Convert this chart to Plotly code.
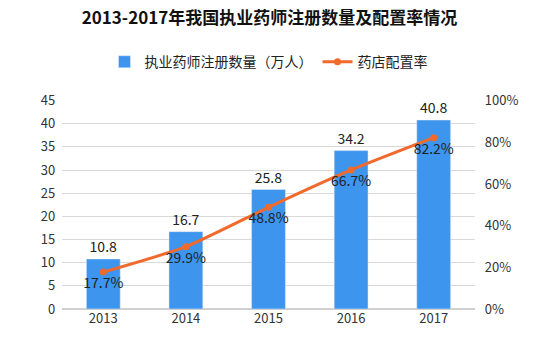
import plotly.graph_objects as go

years = ["2013", "2014", "2015", "2016", "2017"]
pharmacists = [10.8, 16.7, 25.8, 34.2, 40.8]
ratio = [0.177, 0.299, 0.488, 0.667, 0.822]
bar_name = "执业药师注册数量（万人）"
line_name = "药店配置率"
title = "2013-2017年我国执业药师注册数量及配置率情况"

font_fam = "Noto Sans CJK SC, Noto Sans, sans-serif"

fig = go.Figure()
fig.add_trace(go.Bar(
    x=years, y=pharmacists, name=bar_name,
    marker_color="#3d95ee",
    text=[f"{v:.1f}" for v in pharmacists], textposition="outside",
    textfont=dict(size=14, color="#222222", family=font_fam),
    cliponaxis=False,
))
fig.add_trace(go.Scatter(
    x=years, y=ratio, name=line_name, yaxis="y2",
    mode="lines+markers+text",
    line=dict(color="#f2692c", width=3, shape="spline", smoothing=0.6),
    marker=dict(color="#f2692c", size=7),
    text=[f"{v*100:.1f}%" for v in ratio], textposition="bottom center",
    textfont=dict(size=14, color="#222222", family=font_fam),
))

fig.update_layout(
    width=539, height=355,
    margin=dict(l=62, r=64, t=75, b=46),
    paper_bgcolor="white", plot_bgcolor="white",
    font=dict(family=font_fam, size=13, color="#333333"),
    title=dict(text="<b>" + title + "</b>", x=0.5, xanchor="center",
               yref="container", y=0.95, yanchor="middle",
               font=dict(size=17, color="#111111", family=font_fam)),
    legend=dict(orientation="h", x=0.5, xanchor="center",
                yref="container", y=0.825, yanchor="middle",
                font=dict(size=14, color="#222222"), bgcolor="rgba(0,0,0,0)"),
    bargap=0.59,
    showlegend=True,
    xaxis=dict(showline=False, ticks="", tickfont=dict(size=13, color="#333333")),
    yaxis=dict(range=[0, 45], dtick=5, showgrid=True, gridcolor="#d9d9d9", gridwidth=1,
               zeroline=True, zerolinecolor="#d0d0d0", showline=False, ticks="",
               tickfont=dict(size=13, color="#333333"), ticksuffix="  "),
    yaxis2=dict(range=[0, 1], dtick=0.2, tickformat=".0%", overlaying="y", side="right",
                showgrid=False, zeroline=False, showline=False, ticks="",
                tickprefix="   ", tickfont=dict(size=13, color="#333333")),
)

fig.write_html("out.html", config={"displayModeBar": False},
               post_script="document.body.style.margin='0';")
